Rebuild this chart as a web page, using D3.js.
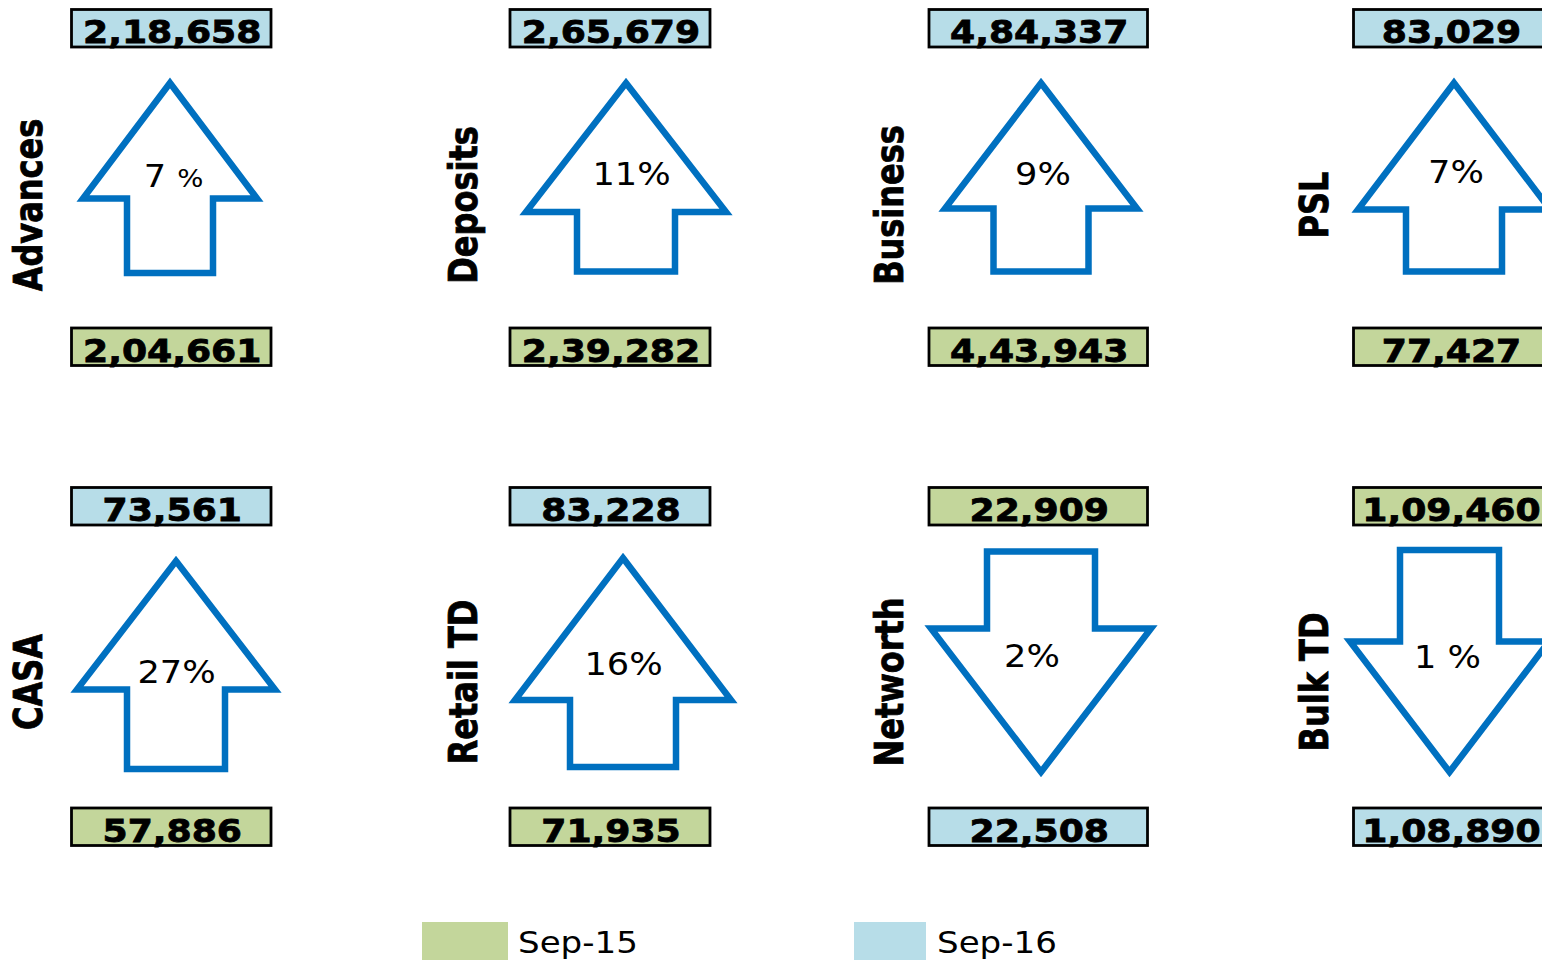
<!DOCTYPE html>
<html>
<head>
<meta charset="utf-8">
<script src="https://cdn.jsdelivr.net/npm/d3@7"></script>
<style>
  body { margin: 0; background: #fff; }
  svg { display: block; }
</style>
</head>
<body>
<div id="chart"></div>
<script>
// data
var categories = ["Advances", "Deposits", "Business", "PSL", "CASA", "Retail TD", "Networth", "Bulk TD"];
var sep15 = [204661, 239282, 443943, 77427, 57886, 71935, 22909, 109460];
var sep16 = [218658, 265679, 484337, 83029, 73561, 83228, 22508, 108890];
var growthLabels = ["7 %", "11%", "9%", "7%", "27%", "16%", "2%", "1 %"];
var periods = ["Sep-15", "Sep-16"];

// layout (not data)
var width = 1542, height = 960;
var boxX = [71.5, 510, 929, 1353.5];
var boxW = [199.5, 200, 218.5, 194];
var boxH = 37.5;
var boxTopY = [9.5, 487.5];
var boxBotY = [328, 808];
var labelX = [42, 477, 903, 1328];
var labelY = [205, 682];
// arrow outline: centre x, tip y, head base y, head half width, shaft half width, shaft end y
var arrows = [
    {cx: 170, tip: 83, base: 198.5, head: 87, shaft: 43, end: 273},
    {cx: 626, tip: 83, base: 212, head: 100, shaft: 49, end: 271.5},
    {cx: 1041, tip: 83, base: 208.5, head: 96, shaft: 47.5, end: 271.5},
    {cx: 1454, tip: 83, base: 209.5, head: 96, shaft: 48, end: 271.5},
    {cx: 176, tip: 561, base: 689.5, head: 99, shaft: 49, end: 769},
    {cx: 623, tip: 558, base: 700, head: 108, shaft: 53, end: 767},
    {cx: 1041, tip: 772, base: 628.5, head: 110, shaft: 54, end: 551.5},
    {cx: 1449.5, tip: 772, base: 641.5, head: 99.5, shaft: 49.5, end: 550}
];
var pctPos = [[173.5, 187], [631.5, 185], [1043, 185], [1456, 183], [176.5, 683], [623.5, 675], [1032, 667], [1447.5, 668]];
var pctSymbolSize = [25, 32, 32, 32, 32, 32, 32, 32];

var colour = d3.scaleOrdinal().domain(periods).range(["#C3D69B", "#B7DDE8"]);
var fmt = d3.formatLocale({decimal: ".", thousands: ",", grouping: [3, 2, 2, 2, 2], currency: ["", ""]}).format(",d");

var svg = d3.select("#chart").append("svg")
    .attr("width", width).attr("height", height)
    .style("font-family", "'DejaVu Sans', Verdana, sans-serif");

var panels = categories.map(function(c, i) {
    var up = sep16[i] >= sep15[i];
    return {
        name: c, i: i, col: i % 4, row: Math.floor(i / 4), up: up,
        top: up ? {p: "Sep-16", v: sep16[i]} : {p: "Sep-15", v: sep15[i]},
        bottom: up ? {p: "Sep-15", v: sep15[i]} : {p: "Sep-16", v: sep16[i]}
    };
});

var g = svg.selectAll("g.panel").data(panels).enter().append("g").attr("class", "panel");

// value boxes
function drawBox(sel, key, ys) {
    var b = sel.append("g");
    b.append("rect")
        .attr("x", function(d) { return boxX[d.col]; })
        .attr("y", function(d) { return ys[d.row]; })
        .attr("width", function(d) { return boxW[d.col]; })
        .attr("height", boxH)
        .attr("fill", function(d) { return colour(d[key].p); })
        .attr("stroke", "#000").attr("stroke-width", 2.8);
    b.append("text")
        .attr("transform", function(d) {
            return "translate(" + (boxX[d.col] + boxW[d.col] / 2 + 1) + "," + (ys[d.row] + 33.5) + ") scale(1.13,1)";
        })
        .attr("text-anchor", "middle")
        .attr("font-size", 32).attr("font-weight", "bold").attr("fill", "#000")
        .attr("stroke", "#000").attr("stroke-width", 0.8)
        .text(function(d) { return fmt(d[key].v); });
}
drawBox(g, "top", boxTopY);
drawBox(g, "bottom", boxBotY);

// arrows
g.append("path")
    .attr("d", function(d) {
        var a = arrows[d.i], p = d3.path();
        p.moveTo(a.cx, a.tip);
        p.lineTo(a.cx + a.head, a.base);
        p.lineTo(a.cx + a.shaft, a.base);
        p.lineTo(a.cx + a.shaft, a.end);
        p.lineTo(a.cx - a.shaft, a.end);
        p.lineTo(a.cx - a.shaft, a.base);
        p.lineTo(a.cx - a.head, a.base);
        p.closePath();
        return p.toString();
    })
    .attr("fill", "#fff").attr("stroke", "#0070C0").attr("stroke-width", 6.5)
    .attr("stroke-linejoin", "miter").attr("stroke-miterlimit", 10);

// growth labels
var pt = g.append("text")
    .attr("transform", function(d) { return "translate(" + pctPos[d.i][0] + "," + pctPos[d.i][1] + ") scale(1.1,1)"; })
    .attr("text-anchor", "middle").attr("font-size", 32).attr("fill", "#000");
pt.append("tspan").text(function(d) { return growthLabels[d.i].replace("%", ""); });
pt.append("tspan").attr("font-size", function(d) { return pctSymbolSize[d.i]; }).text("%");

// category labels
g.append("text")
    .attr("transform", function(d) { return "translate(" + labelX[d.col] + "," + labelY[d.row] + ") scale(1.2,1) rotate(-90)"; })
    .attr("text-anchor", "middle")
    .attr("font-size", 32).attr("font-weight", "bold").attr("fill", "#000")
    .attr("stroke", "#000").attr("stroke-width", 0.7)
    .text(function(d) { return d.name; });

// legend
var legX = [422, 854], legW = [86, 72], legTextX = [518, 937];
var leg = svg.selectAll("g.legend").data(periods).enter().append("g").attr("class", "legend");
leg.append("rect")
    .attr("x", function(d, i) { return legX[i]; }).attr("y", 922)
    .attr("width", function(d, i) { return legW[i]; }).attr("height", 40)
    .attr("fill", function(d) { return colour(d); });
leg.append("text")
    .attr("transform", function(d, i) { return "translate(" + legTextX[i] + ",953) scale(1.1,1)"; })
    .attr("font-size", 31).attr("fill", "#000")
    .text(function(d) { return d; });
</script>
</body>
</html>
